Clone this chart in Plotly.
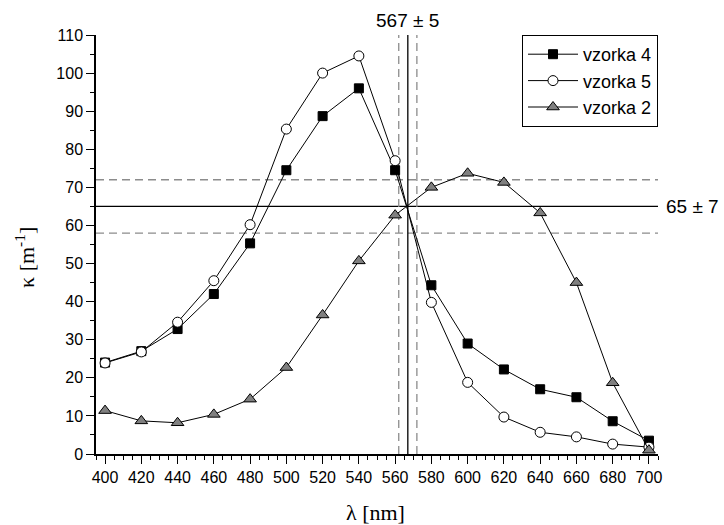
import plotly.graph_objects as go

wavelength = [400, 420, 440, 460, 480, 500, 520, 540, 560, 580, 600, 620, 640, 660, 680, 700]
vzorka4 = [24.0, 27.0, 32.8, 42.0, 55.3, 74.5, 88.7, 96.0, 74.5, 44.3, 29.0, 22.2, 17.0, 14.9, 8.6, 3.5]
vzorka5 = [23.9, 26.8, 34.6, 45.5, 60.2, 85.3, 100.0, 104.5, 77.0, 39.8, 18.8, 9.7, 5.7, 4.5, 2.6, 1.8]
vzorka2 = [11.4, 8.7, 8.2, 10.4, 14.4, 22.7, 36.5, 50.7, 62.7, 70.0, 73.7, 71.3, 63.3, 45.0, 18.7, 1.0]

x_center, x_err = 567, 5
y_center, y_err = 65, 7

FONT = "Liberation Sans, Arial, sans-serif"
SERIF = "Liberation Serif, Times New Roman, serif"

fig = go.Figure()
fig.add_trace(go.Scatter(x=wavelength, y=vzorka4, name="vzorka 4", mode="lines+markers",
                         line=dict(color="black", width=1),
                         marker=dict(symbol="square", size=9, color="black",
                                     line=dict(color="black", width=1))))
fig.add_trace(go.Scatter(x=wavelength, y=vzorka5, name="vzorka 5", mode="lines+markers",
                         line=dict(color="black", width=1),
                         marker=dict(symbol="circle", size=10, color="white",
                                     line=dict(color="black", width=1))))
fig.add_trace(go.Scatter(x=wavelength, y=vzorka2, name="vzorka 2", mode="lines+markers",
                         line=dict(color="black", width=1),
                         marker=dict(symbol="triangle-up", size=11, color="#808080",
                                     line=dict(color="black", width=1))))

gray = "#8c8c8c"
for xv, col, dash in [(x_center - x_err, gray, "8px,5px"), (x_center + x_err, gray, "8px,5px"),
                      (x_center, "black", "solid")]:
    fig.add_shape(type="line", xref="x", yref="y", x0=xv, x1=xv, y0=0, y1=110,
                  line=dict(color=col, width=1.3, dash=dash), layer="below")
for yv, col, dash in [(y_center - y_err, gray, "8px,5px"), (y_center + y_err, gray, "8px,5px"),
                      (y_center, "black", "solid")]:
    fig.add_shape(type="line", xref="paper", yref="y", x0=0, x1=1, y0=yv, y1=yv,
                  line=dict(color=col, width=1.3, dash=dash), layer="below")

fig.add_annotation(x=x_center, y=1, xref="x", yref="paper", yanchor="bottom", xanchor="center",
                   yshift=2, showarrow=False, text=f"{x_center} ± {x_err}",
                   font=dict(family=FONT, size=19, color="black"))
fig.add_annotation(x=1, y=y_center, xref="paper", yref="y", xanchor="left", yanchor="middle",
                   xshift=6, showarrow=False, text=f"{y_center} ± {y_err}",
                   font=dict(family=FONT, size=19, color="black"))
fig.add_annotation(x=0.498, y=0, xref="paper", yref="paper", yanchor="middle", xanchor="center",
                   yshift=-58, showarrow=False, text="λ [nm]",
                   font=dict(family=SERIF, size=22, color="black"))
fig.add_annotation(x=0, y=0.468, xref="paper", yref="paper", yanchor="middle", xanchor="center",
                   xshift=-71, textangle=-90, showarrow=False, text="κ [m<sup>-1</sup>]",
                   font=dict(family=SERIF, size=22, color="black"))

fig.update_xaxes(range=[395, 705], tickmode="array", tickvals=wavelength,
                 ticktext=[str(v) for v in wavelength],
                 showgrid=False, zeroline=False, showline=True, linecolor="black", linewidth=1.5,
                 ticks="outside", ticklen=8, tickwidth=1.3, tickcolor="black",
                 minor=dict(dtick=5, tick0=400, ticks="outside", ticklen=4, tickwidth=1.3, tickcolor="black"),
                 tickfont=dict(family=FONT, size=16, color="black"))
fig.update_yaxes(range=[0, 110], dtick=10, tick0=0,
                 showgrid=False, zeroline=False, showline=True, linecolor="black", linewidth=1.5,
                 ticks="outside", ticklen=8, tickwidth=1.3, tickcolor="black",
                 minor=dict(dtick=5, ticks="outside", ticklen=4, tickwidth=1.3, tickcolor="black"),
                 tickfont=dict(family=FONT, size=16, color="black"))

fig.update_layout(width=724, height=525, margin=dict(l=96, r=66, t=35, b=71),
                  plot_bgcolor="white", paper_bgcolor="white",
                  legend=dict(x=1, xanchor="right", y=1, yanchor="top", bgcolor="white",
                              bordercolor="black", borderwidth=1, itemwidth=50,
                              font=dict(family=FONT, size=18, color="black"),
                              tracegroupgap=0))

fig.write_html("out.html")
